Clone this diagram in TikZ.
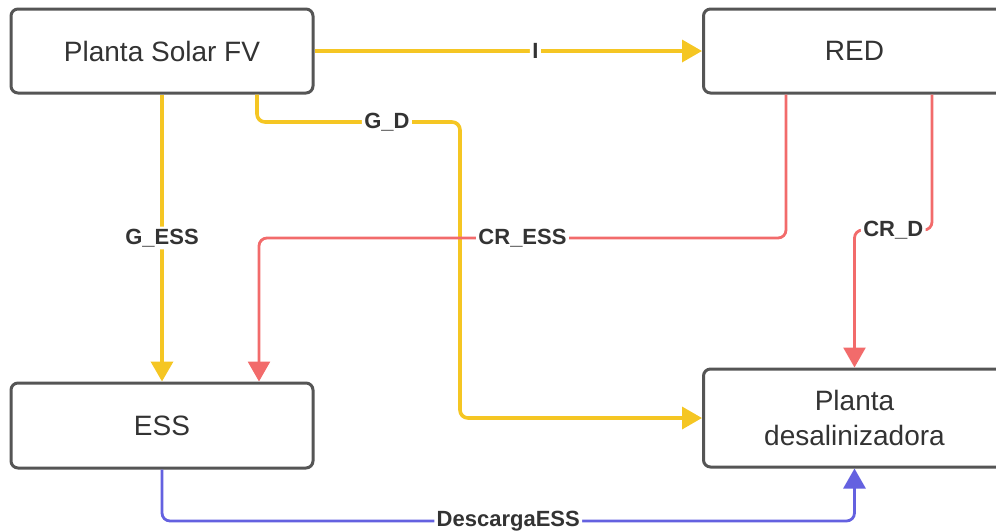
\documentclass[tikz,border=0pt]{standalone}
\usepackage{fontspec}
\setmainfont{Liberation Sans}
\usetikzlibrary{arrows.meta, positioning, calc}
\definecolor{BoxGray}{HTML}{555555}
\definecolor{Charcoal}{HTML}{333333}
\definecolor{SunYellow}{HTML}{F5C623}
\definecolor{GridRed}{HTML}{F26B6B}
\definecolor{StoreBlue}{HTML}{6461E0}

\begin{document}
\begin{tikzpicture}[x=0.5pt, y=-0.5pt,
    blok/.style={draw=BoxGray, line width=1.5pt, rounded corners=3.5pt, fill=white,
        minimum width=151pt, text=Charcoal, align=center,
        font=\fontsize{14}{17.5}\selectfont},
    lbl/.style={fill=white, inner sep=1.2pt, text=Charcoal,
        font=\bfseries\fontsize{11}{13}\selectfont},
    flecha/.style={-{Triangle[width=11pt, length=10pt]}, rounded corners=4pt},
    solarflow/.style={flecha, draw=SunYellow, line width=1.8pt},
    redflow/.style={flecha, draw=GridRed, line width=1.4pt},
    bateria/.style={flecha, draw=StoreBlue, line width=1.4pt}]
                \useasboundingbox (0,0) rectangle (996,531);

                % Boxes
                \node[blok, minimum height=42pt] (solar) at (162,51) {Planta Solar FV};
                \node[blok, minimum height=42pt] (red) at (854.5,51) {RED};
                \node[blok, minimum height=42.5pt] (ess) at (162,425.5) {ESS};
                \node[blok, minimum height=49pt] (desal) at (854.5,418) {Planta\\desalinizadora};

                % Corner points
                \coordinate (gdA) at (257,122);
                \coordinate (gdB) at (460,122);
                \coordinate (creA) at (786,238);
                \coordinate (creB) at (259,238);
                \coordinate (crdA) at (932,230);
                \coordinate (dsA) at (162,521);

                % Solar flows
                \draw[solarflow] (solar.east) -- node[lbl, pos=0.57] {I} (red.west);
                \draw[solarflow] (solar.south) -- node[lbl] {G\_ESS} (ess.north);
                \draw[solarflow] (solar.south -| gdA) -- (gdA) -- node[lbl, pos=0.64] {G\_D} (gdB) |- (desal.west);

                % Grid flows
                \draw[redflow] (red.south -| creA) -- (creA) -- node[lbl] {CR\_ESS} (creB) -- (ess.north -| creB);
                \draw[redflow] (red.south -| crdA) -- (crdA) -- node[lbl] {CR\_D} (crdA -| desal.north) -- (desal.north);

                % Storage discharge
                \draw[bateria] (ess.south) -- (dsA) -- node[lbl] {DescargaESS} (dsA -| desal.south) -- (desal.south);
            \end{tikzpicture}
\end{document}
